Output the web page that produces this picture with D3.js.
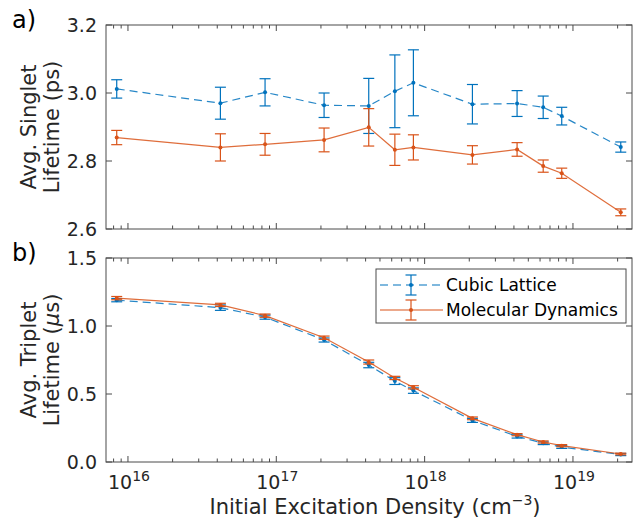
<!DOCTYPE html>
<html>
<head>
<meta charset="utf-8">
<script src="https://cdn.jsdelivr.net/npm/d3@7"></script>
<style>
  body { margin: 0; background: #fff; }
  svg { font-family: "DejaVu Sans", sans-serif; }
</style>
</head>
<body>
<div id="chart"></div>
<script>
// ---- data ----
const density = [8.4e15, 4.2e16, 8.4e16, 2.1e17, 4.2e17, 6.3e17, 8.4e17, 2.1e18, 4.2e18, 6.3e18, 8.4e18, 2.1e19];

const singletCubic    = [3.012, 2.970, 3.002, 2.964, 2.962, 3.005, 3.030, 2.967, 2.969, 2.958, 2.932, 2.841];
const singletCubicErr = [0.027, 0.047, 0.040, 0.036, 0.081, 0.107, 0.097, 0.058, 0.038, 0.033, 0.026, 0.015];
const singletMD       = [2.869, 2.840, 2.849, 2.862, 2.899, 2.833, 2.840, 2.818, 2.834, 2.785, 2.764, 2.649];
const singletMDErr    = [0.021, 0.040, 0.032, 0.035, 0.055, 0.046, 0.037, 0.027, 0.020, 0.018, 0.015, 0.010];

const tripletCubic    = [1.190, 1.135, 1.065, 0.897, 0.713, 0.595, 0.525, 0.306, 0.188, 0.138, 0.110, 0.055];
const tripletCubicErr = [0.012, 0.020, 0.015, 0.015, 0.020, 0.025, 0.020, 0.015, 0.012, 0.010, 0.010, 0.008];
const tripletMD       = [1.205, 1.155, 1.076, 0.914, 0.735, 0.618, 0.549, 0.321, 0.201, 0.147, 0.120, 0.059];
const tripletMDErr    = [0.012, 0.012, 0.012, 0.012, 0.015, 0.012, 0.012, 0.010, 0.008, 0.008, 0.008, 0.006];

const singletTicks = [2.6, 2.8, 3.0, 3.2];
const tripletTicks = [0.0, 0.5, 1.0, 1.5];
const decadeTicks = [16, 17, 18, 19];

const seriesNames = ["Cubic Lattice", "Molecular Dynamics"];
const blue = "#0072BD", orange = "#D95319";

// ---- layout ----
const W = 636, H = 518;
const left = 106, right = 632;
const svg = d3.select("#chart").append("svg").attr("width", W).attr("height", H);

const x = d3.scaleLog().domain([Math.pow(10, 15.852), Math.pow(10, 19.398)]).range([left, right]);

// minor ticks: 2..9 x each decade inside the domain
const minorTicks = [];
for (let e = 15; e <= 19; e++) for (let m = 2; m <= 9; m++) {
  const v = m * Math.pow(10, e);
  if (v > x.domain()[0] && v < x.domain()[1]) minorTicks.push(v);
}

function panel(top, bottom, yDomain, yTicks, cubic, cubicErr, md, mdErr, opts) {
  const y = d3.scaleLinear().domain(yDomain).range([bottom, top]);
  const g = svg.append("g");

  // box
  g.append("rect").attr("x", left).attr("y", top)
    .attr("width", right - left).attr("height", bottom - top)
    .attr("fill", "none").attr("stroke", "#4a4a4a").attr("stroke-width", 1);

  // x ticks (inward, both sides)
  const ticksG = g.append("g").attr("stroke", "#4a4a4a").attr("stroke-width", 1);
  decadeTicks.forEach(e => {
    const px = x(Math.pow(10, e));
    ticksG.append("line").attr("x1", px).attr("x2", px).attr("y1", bottom).attr("y2", bottom - 6);
    ticksG.append("line").attr("x1", px).attr("x2", px).attr("y1", top).attr("y2", top + 6);
  });
  minorTicks.forEach(v => {
    const px = x(v);
    ticksG.append("line").attr("x1", px).attr("x2", px).attr("y1", bottom).attr("y2", bottom - 3.5);
    ticksG.append("line").attr("x1", px).attr("x2", px).attr("y1", top).attr("y2", top + 3.5);
  });
  // y ticks
  yTicks.forEach(v => {
    ticksG.append("line").attr("x1", left).attr("x2", left + 6).attr("y1", y(v)).attr("y2", y(v));
    ticksG.append("line").attr("x1", right).attr("x2", right - 6).attr("y1", y(v)).attr("y2", y(v));
    g.append("text").attr("x", left - 9).attr("y", y(v)).attr("dy", "0.36em")
      .attr("text-anchor", "end").attr("font-size", 19).attr("fill", "#262626")
      .text(d3.format(".1f")(v));
  });

  // y label, two lines
  const yl = g.append("text")
    .attr("transform", `translate(0,${(top + bottom) / 2}) rotate(-90)`)
    .attr("text-anchor", "middle").attr("font-size", 21).attr("fill", "#262626");
  yl.append("tspan").attr("x", 0).attr("y", 36).text(opts.label1);
  const l2 = yl.append("tspan").attr("x", 0).attr("y", 59);
  opts.label2(l2);

  // panel letter
  g.append("text").attr("x", 12).attr("y", top + 3).attr("font-size", 24)
    .attr("fill", "#000").text(opts.letter);

  // series
  function drawSeries(vals, errs, color, dash) {
    const pts = density.map((d, i) => ({ x: d, y: vals[i], e: errs[i] }));
    g.append("path").datum(pts)
      .attr("d", d3.line().x(d => x(d.x)).y(d => y(d.y)))
      .attr("fill", "none").attr("stroke", color).attr("stroke-width", 1.2)
      .attr("stroke-dasharray", dash).attr("opacity", 0.85);
    const eb = g.append("g").attr("stroke", color).attr("stroke-width", 1.2);
    pts.forEach(p => {
      const cx = x(p.x), y1 = y(p.y + p.e), y2 = y(p.y - p.e);
      eb.append("line").attr("x1", cx).attr("x2", cx).attr("y1", y1).attr("y2", y2);
      eb.append("line").attr("x1", cx - 5.5).attr("x2", cx + 5.5).attr("y1", y1).attr("y2", y1);
      eb.append("line").attr("x1", cx - 5.5).attr("x2", cx + 5.5).attr("y1", y2).attr("y2", y2);
    });
    g.selectAll(null).data(pts).join("circle")
      .attr("cx", d => x(d.x)).attr("cy", d => y(d.y)).attr("r", 2)
      .attr("fill", color);
  }
  drawSeries(cubic, cubicErr, blue, "8,5");
  drawSeries(md, mdErr, orange, null);
  return g;
}

panel(25, 229, [2.6, 3.2], singletTicks, singletCubic, singletCubicErr, singletMD, singletMDErr, {
  letter: "a)",
  label1: "Avg. Singlet",
  label2: t => t.text("Lifetime (ps)")
});

panel(258, 462, [0, 1.5], tripletTicks, tripletCubic, tripletCubicErr, tripletMD, tripletMDErr, {
  letter: "b)",
  label1: "Avg. Triplet",
  label2: t => {
    t.append("tspan").text("Lifetime (");
    t.append("tspan").attr("font-style", "italic").text("\u03bc");
    t.append("tspan").text("s)");
  }
});

// x tick labels (bottom panel only)
decadeTicks.forEach(e => {
  const t = svg.append("text").attr("x", x(Math.pow(10, e)) + 1).attr("y", 489)
    .attr("text-anchor", "middle").attr("fill", "#262626");
  t.append("tspan").attr("font-size", 19).text("10");
  t.append("tspan").attr("font-size", 14).attr("dy", -8).text(String(e));
});

// x label
const xl = svg.append("text").attr("x", (left + right) / 2 + 6).attr("y", 514)
  .attr("text-anchor", "middle").attr("font-size", 21).attr("fill", "#262626");
xl.append("tspan").text("Initial Excitation Density (cm");
xl.append("tspan").attr("font-size", 14).attr("dy", -9).text("\u22123");
xl.append("tspan").attr("dy", 9).text(")");

// legend
const lg = svg.append("g");
lg.append("rect").attr("x", 376).attr("y", 269).attr("width", 250).attr("height", 54)
  .attr("fill", "#fff").attr("stroke", "#4a4a4a").attr("stroke-width", 1);
[[blue, "8,5", 285], [orange, null, 310]].forEach(([c, dash, cy], i) => {
  lg.append("line").attr("x1", 380).attr("x2", 443).attr("y1", cy).attr("y2", cy)
    .attr("stroke", c).attr("stroke-width", 1.2).attr("stroke-dasharray", dash);
  const mx = 411;
  lg.append("line").attr("x1", mx).attr("x2", mx).attr("y1", cy - 10).attr("y2", cy + 10)
    .attr("stroke", c).attr("stroke-width", 1.2);
  [cy - 10, cy + 10].forEach(yy => lg.append("line").attr("x1", mx - 5.5).attr("x2", mx + 5.5)
    .attr("y1", yy).attr("y2", yy).attr("stroke", c).attr("stroke-width", 1.2));
  lg.append("circle").attr("cx", mx).attr("cy", cy).attr("r", 2).attr("fill", c);
  lg.append("text").attr("x", 446).attr("y", cy).attr("dy", "0.36em")
    .attr("font-size", 17).attr("fill", "#000").text(seriesNames[i]);
});
</script>
</body>
</html>
